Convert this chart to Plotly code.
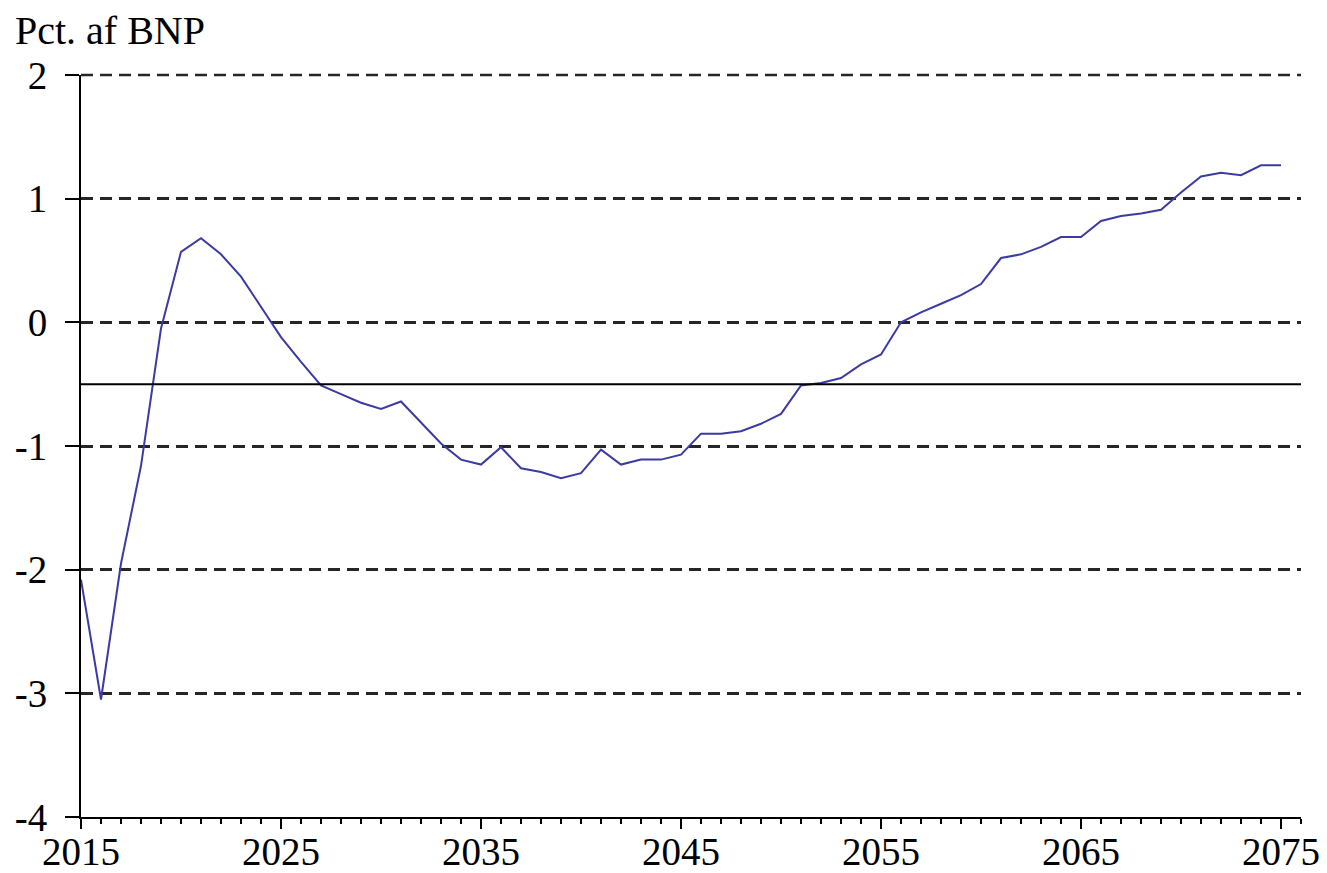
import plotly.graph_objects as go

years = list(range(2015, 2076))
values = [
    -2.08, -3.05, -1.95, -1.16, -0.05, 0.57, 0.68, 0.55, 0.37, 0.13,
    -0.12, -0.32, -0.51, -0.58, -0.65, -0.70, -0.64, -0.81, -0.98, -1.11,
    -1.15, -1.01, -1.18, -1.21, -1.26, -1.22, -1.03, -1.15, -1.11, -1.11,
    -1.07, -0.90, -0.90, -0.88, -0.82, -0.74, -0.51, -0.49, -0.45, -0.34,
    -0.26, 0.00, 0.08, 0.15, 0.22, 0.31, 0.52, 0.55, 0.61, 0.69,
    0.69, 0.82, 0.86, 0.88, 0.91, 1.05, 1.18, 1.21, 1.19, 1.27,
    1.27,
]
y_ticks = [-4, -3, -2, -1, 0, 1, 2]
x_ticks = [2015, 2025, 2035, 2045, 2055, 2065, 2075]
ref_level = -0.5
y_title = "Pct. af BNP"

font_family = "Liberation Serif, Times New Roman, serif"
grid_color = "#262626"
grid_dash = "12px,7px"
grid_width = 2.5

fig = go.Figure()
fig.add_trace(go.Scatter(
    x=years, y=values, mode="lines",
    line=dict(color="#3b3ba3", width=2),
    showlegend=False, hoverinfo="skip",
))

# top gridline at the upper edge of the y range (plotly omits it)
fig.add_shape(type="line", xref="paper", yref="paper", x0=0, x1=1,
              y0=1, y1=1, layer="below",
              line=dict(color=grid_color, width=grid_width, dash=grid_dash))

fig.add_shape(type="line", xref="paper", yref="y", x0=0, x1=1,
              y0=ref_level, y1=ref_level,
              line=dict(color="black", width=2))

W, H = 1327, 873
ml, mr, mt, mb = 81, 26, 75, 56
fig.update_layout(
    width=W, height=H,
    margin=dict(l=ml, r=mr, t=mt, b=mb, autoexpand=False),
    paper_bgcolor="white", plot_bgcolor="white",
    font=dict(family=font_family, size=38, color="black"),
    xaxis=dict(
        range=[2015, 2076], showgrid=False, zeroline=False,
        showline=True, linecolor="black", linewidth=2,
        tickmode="array", tickvals=x_ticks,
        ticktext=[str(v) for v in x_ticks],
        ticks="outside", ticklen=10, tickwidth=2, tickcolor="black",
        minor=dict(dtick=1, tick0=2015, ticks="outside", ticklen=5,
                   tickwidth=1.5, tickcolor="black", showgrid=False),
        tickfont=dict(size=39),
        ticklabelstandoff=-11,
    ),
    yaxis=dict(
        range=[-4, 2], zeroline=False,
        showline=True, linecolor="black", linewidth=2,
        tickmode="array", tickvals=y_ticks,
        ticktext=[str(v) for v in y_ticks],
        ticks="outside", ticklen=14, tickwidth=2, tickcolor="black",
        showgrid=True, gridcolor=grid_color, gridwidth=grid_width,
        griddash=grid_dash,
        tickfont=dict(size=39),
        ticklabelstandoff=10,
    ),
    annotations=[dict(
        text=y_title, xref="paper", yref="paper",
        x=(13 - ml) / (W - ml - mr), y=1 + (mt - 6) / (H - mt - mb),
        xanchor="left", yanchor="top", showarrow=False,
        font=dict(size=40, family=font_family, color="black"),
    )],
)

fig.write_html(
    "out.html",
    config={"displayModeBar": False},
    post_script="document.body.style.margin='0';document.body.style.overflow='hidden';",
)
